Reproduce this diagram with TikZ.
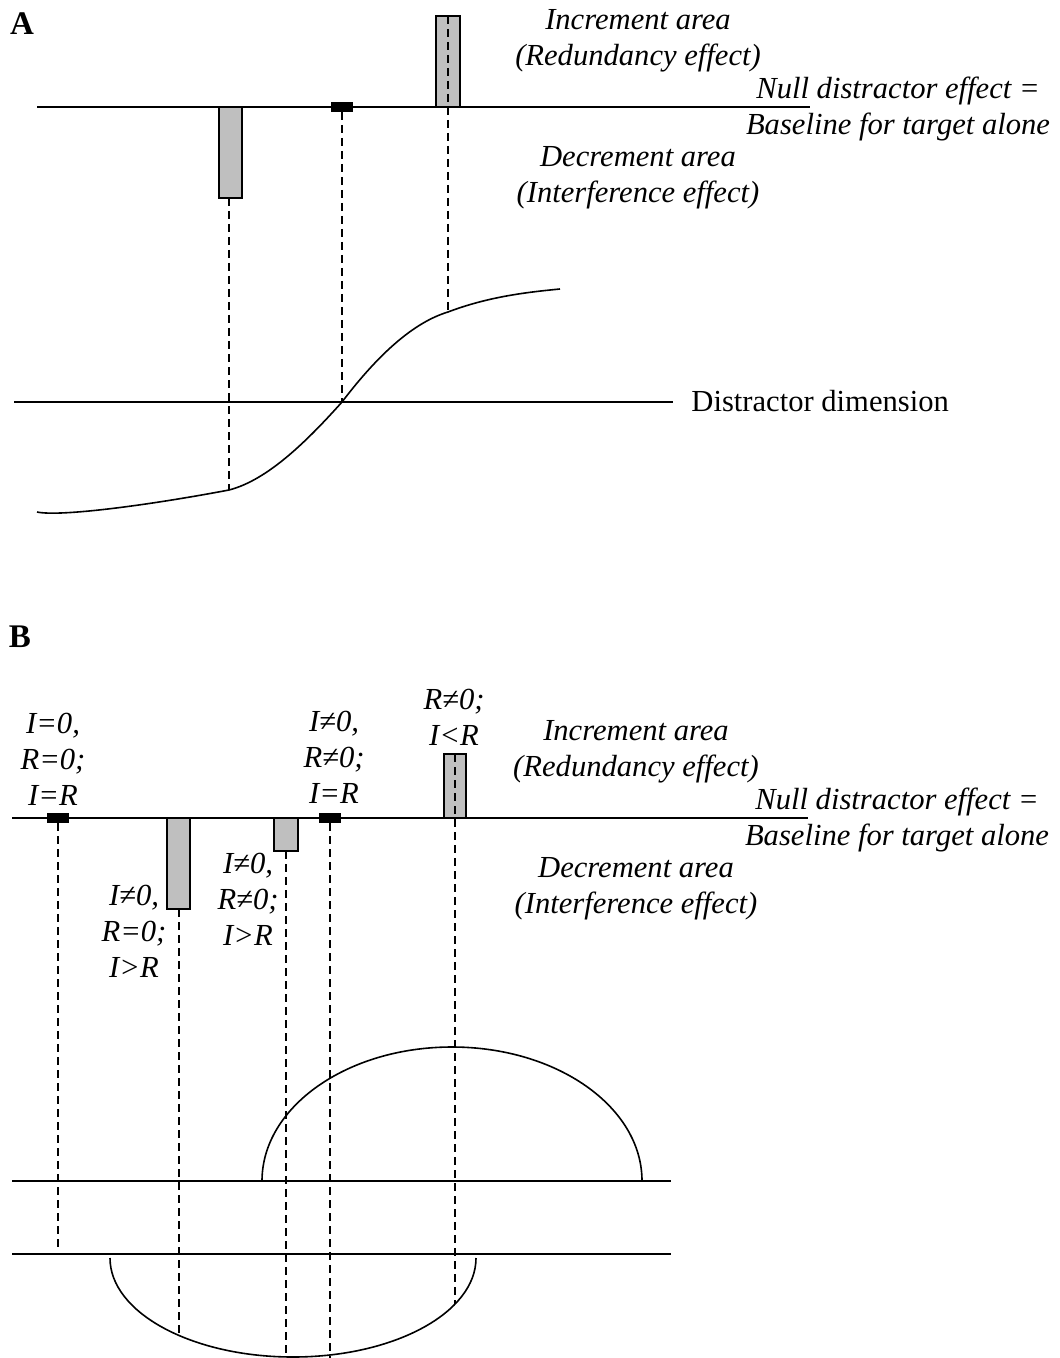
\documentclass[tikz,border=0pt]{standalone}
\usepackage{fontspec}
\setmainfont{Liberation Serif}
\usepackage{tikz}
\usetikzlibrary{positioning}

\begin{document}
\begin{tikzpicture}[x=0.5pt,y=-0.5pt,
  lbl/.style={font=\fontsize{15.3}{18}\selectfont\itshape,align=center,inner sep=0pt},
  panel/.style={font=\fontsize{16.5}{18}\selectfont\bfseries,inner sep=0pt},
  base/.style={line width=1pt},
  curve/.style={line width=0.8pt},
  guide/.style={line width=0.7pt,dash pattern=on 4pt off 2.5pt},
  bar/.style={fill=black!25,draw=black,line width=0.9pt},
  blk/.style={fill=black}]
\useasboundingbox (0,0) rectangle (1059,1358);

% panel A
\node[panel] (labA) at (22,24) {A};
\draw[base] (37,107) -- (810,107);
\draw[base] (14,402) -- (673,402);
\node[font=\fontsize{15.3}{18}\selectfont,anchor=west,inner sep=0pt] (dimA) at (691,401) {Distractor dimension};
\node[lbl] (incA) at (638,41) {Increment area\\(Redundancy effect)};
\node[lbl] (nullA) at (898,109) {Null distractor effect =\\Baseline for target alone};
\node[lbl] (decA) at (638,178) {Decrement area\\(Interference effect)};
\coordinate (loA) at (229,490);
\coordinate (midA) at (342,402);
\coordinate (hiA) at (448,312);
\draw[curve] (37,512) .. controls (60,517) and (150,505) .. (loA)
  .. controls (268,480) and (308,440) .. (midA)
  .. controls (380,352) and (415,322) .. (hiA)
  .. controls (490,296) and (530,292) .. (560,289);
\filldraw[bar] (219,107) rectangle (242,198);
\filldraw[bar] (436,16) rectangle (460,107);
\fill[blk] (331,102) rectangle (353,112);
\draw[guide] (229,198) -- (loA);
\draw[guide] (342,112) -- (midA);
\draw[guide] (448,16) -- (hiA);

% panel B
\node[panel] (labB) at (20,637) {B};
\draw[base] (12,818) -- (808,818);
\draw[base] (12,1181) -- (671,1181);
\draw[base] (12,1254) -- (671,1254);
\node[lbl] (incB) at (636,752) {Increment area\\(Redundancy effect)};
\node[lbl] (nullB) at (897,820) {Null distractor effect =\\Baseline for target alone};
\node[lbl] (decB) at (636,889) {Decrement area\\(Interference effect)};
\draw[curve] (262,1181) arc[start angle=180,end angle=0,x radius=95pt,y radius=67pt];
\draw[curve] (110,1258) arc[start angle=180,end angle=360,x radius=91.5pt,y radius=49.5pt];
\filldraw[bar] (167,818) rectangle (190,909);
\filldraw[bar] (274,818) rectangle (298,851);
\filldraw[bar] (444,754) rectangle (466,818);
\fill[blk] (47,813) rectangle (69,823);
\fill[blk] (319,813) rectangle (341,823);
\node[lbl] (caseA) at (53,759) {I=0,\\R=0;\\I=R};
\node[lbl] (caseB) at (134,931) {I≠0,\\R=0;\\I>R};
\node[lbl] (caseC) at (248,899) {I≠0,\\R≠0;\\I>R};
\node[lbl] (caseD) at (334,757) {I≠0,\\R≠0;\\I=R};
\node[lbl] (caseE) at (454,717) {R≠0;\\I<R};
\draw[guide] (58,823) -- (58,1250);
\draw[guide] (179,909) -- (179,1337);
\draw[guide] (286,851) -- (286,1358);
\draw[guide] (330,823) -- (330,1358);
\draw[guide] (455,754) -- (455,1304);
\end{tikzpicture}
\end{document}
